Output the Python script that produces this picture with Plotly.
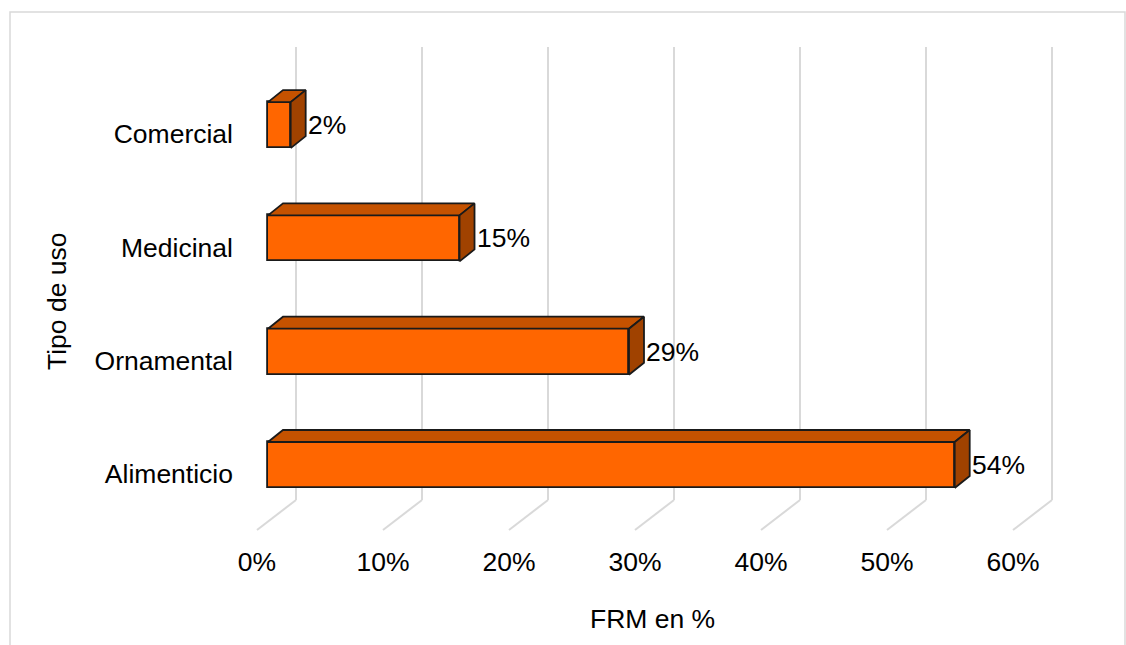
import plotly.graph_objects as go

categories = ["Alimenticio", "Ornamental", "Medicinal", "Comercial"]
values = [54.5, 28.65, 15.2, 1.8]
x_ticks = [0, 10, 20, 30, 40, 50, 60]
x_ticktext = ["0%", "10%", "20%", "30%", "40%", "50%", "60%"]

W, H = 1126, 645
L, R, T, B = 240, 1090, 30, 535      # plot area in pixels
X0PX, XSCALE = 268, 12.6             # px of 0% at bar front, px per %
Y0PX, YSCALE = 465, 113.3            # px of first category, px per category

xmin = (L - X0PX) / XSCALE
xmax = (R - X0PX) / XSCALE
ymin = (Y0PX - B) / YSCALE
ymax = (Y0PX - T) / YSCALE

bar_h = 46 / YSCALE
dx = 15 / XSCALE
dy = 12 / YSCALE
back_dx = 28 / XSCALE
front_dx = -11 / XSCALE
wall_bottom = (Y0PX - 500) / YSCALE
floor_front = (Y0PX - 530) / YSCALE
wall_top = (Y0PX - 47) / YSCALE

FRONT = "#FF6600"
TOP = "#C55200"
SIDE = "#A04200"
EDGE = "#1A1A1A"
GRID = "#D9D9D9"
FONT = "Liberation Sans, Arial, sans-serif"
FS = 26.5


def px_x(p):
    return (p - L) / (R - L)


def px_y(p):
    return (B - p) / (B - T)


fig = go.Figure()

idx = list(range(len(categories)))

fig.add_trace(go.Bar(
    y=idx, x=values, orientation="h", width=bar_h,
    marker=dict(color=FRONT, line=dict(color=EDGE, width=1.8)),
    hoverinfo="skip", showlegend=False,
))

for i, v in zip(idx, values):
    top_y = i + bar_h / 2
    bot_y = i - bar_h / 2
    fig.add_trace(go.Scatter(
        x=[0, v, v + dx, dx, 0],
        y=[top_y, top_y, top_y + dy, top_y + dy, top_y],
        mode="lines", fill="toself", fillcolor=TOP,
        line=dict(color=EDGE, width=1.8), hoverinfo="skip", showlegend=False,
    ))
    fig.add_trace(go.Scatter(
        x=[v, v + dx, v + dx, v, v],
        y=[bot_y, bot_y + dy, top_y + dy, top_y, bot_y],
        mode="lines", fill="toself", fillcolor=SIDE,
        line=dict(color=EDGE, width=1.8), hoverinfo="skip", showlegend=False,
    ))
    fig.add_annotation(
        x=v + dx, y=i, text=f"{round(v):.0f}%", showarrow=False,
        xanchor="left", yanchor="middle", xshift=0,
        font=dict(family=FONT, size=FS, color="#000000"),
    )

shapes = []
for t in x_ticks:
    shapes.append(dict(type="line", xref="x", yref="y", layer="below",
                       x0=t + back_dx, x1=t + back_dx, y0=wall_bottom, y1=wall_top,
                       line=dict(color=GRID, width=2)))
    shapes.append(dict(type="line", xref="x", yref="y", layer="below",
                       x0=t + back_dx, x1=t + front_dx, y0=wall_bottom, y1=floor_front,
                       line=dict(color=GRID, width=2)))
# chart frame
shapes.append(dict(type="rect", xref="paper", yref="paper", layer="below",
                   x0=px_x(10), x1=px_x(1125), y0=px_y(660), y1=px_y(12),
                   line=dict(color=GRID, width=1.5), fillcolor="rgba(0,0,0,0)"))

fig.add_annotation(x=px_x(652), y=px_y(619), xref="paper", yref="paper",
                   text="FRM en %", showarrow=False, xanchor="center", yanchor="middle",
                   font=dict(family=FONT, size=FS, color="#000000"))
fig.add_annotation(x=px_x(57), y=px_y(301), xref="paper", yref="paper",
                   text="Tipo de uso", showarrow=False, textangle=-90,
                   xanchor="center", yanchor="middle",
                   font=dict(family=FONT, size=FS, color="#000000"))

fig.update_layout(
    width=W, height=H,
    margin=dict(l=L, r=W - R, t=T, b=H - B, autoexpand=False),
    paper_bgcolor="white", plot_bgcolor="white",
    shapes=shapes,
    font=dict(family=FONT, size=FS, color="#000000"),
    xaxis=dict(range=[xmin, xmax], showgrid=False, zeroline=False, showline=False,
               tickmode="array", tickvals=[t + front_dx for t in x_ticks],
               ticktext=x_ticktext, ticks="", ticklabelstandoff=8,
               tickfont=dict(family=FONT, size=FS, color="#000000"), fixedrange=True),
    yaxis=dict(range=[ymin, ymax], showgrid=False, zeroline=False, showline=False,
               tickmode="array", tickvals=[i - 9 / YSCALE for i in idx],
               ticktext=categories, ticks="", ticklabelstandoff=6,
               tickfont=dict(family=FONT, size=FS, color="#000000"), fixedrange=True),
    bargap=0,
)

fig.write_html("out.html")
